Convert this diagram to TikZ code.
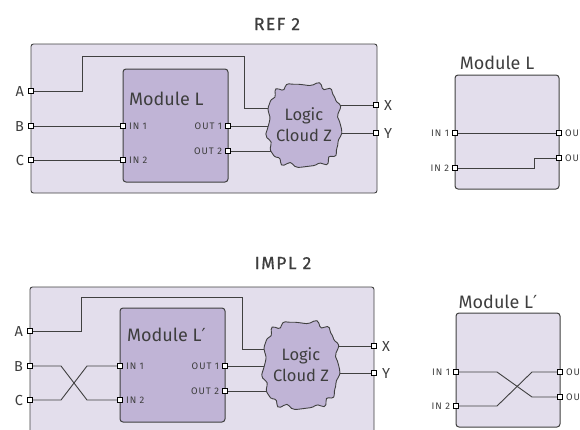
\documentclass[tikz,border=0pt]{standalone}
\usepackage{fontspec}
\setmainfont{Fira Sans}
\newfontfamily\pinfont[LetterSpace=10]{Fira Sans}
\newfontfamily\headfont[FakeBold=0.7,LetterSpace=8]{Fira Sans}
\newfontfamily\symfont{DejaVu Sans}
\newcommand\primemark{{\symfont ′}}
\definecolor{panel}{HTML}{E3DEEC}
\definecolor{modfill}{HTML}{C0B4D6}
\definecolor{wire}{HTML}{404040}
\definecolor{ink}{HTML}{3E3E3E}
\tikzset{
  panelbox/.style={draw=wire, fill=panel, line width=0.9pt, rounded corners=2.5pt},
  modbox/.style={draw=wire, fill=modfill, line width=1pt, rounded corners=3pt},
  sig/.style={draw=wire, line width=0.9pt},
  port/.style={rectangle, draw=black, fill=white, line width=1pt, minimum size=4.6pt, inner sep=0pt},
  pinlbl/.style={font=\pinfont\fontsize{9.5}{9.5}\selectfont, text=ink, inner sep=0pt},
  iolbl/.style={font=\fontsize{14.5}{14.5}\selectfont, text=ink, inner sep=0pt},
  modlbl/.style={font=\fontsize{18}{18}\selectfont, text=ink, inner sep=0pt},
  cloudlbl/.style={font=\fontsize{16.5}{21}\selectfont, text=ink, align=center, inner sep=0pt},
  titlelbl/.style={font=\headfont\fontsize{17.5}{17.5}\selectfont, text=ink, inner sep=0pt},
  cloudshape/.style={draw=wire, fill=modfill, line width=0.9pt}
}
% bumpy rounded outline of a logic cloud: centre x, centre y, half width, half height
\newcommand\bumpcloud[4]{%
  \path[cloudshape] plot[smooth cycle, variable=\t, domain=2:358, samples=90]
    ({#1+#3*sign(cos(\t))*(abs(cos(\t)))^0.7*(1+0.04*sin(13*\t)+0.025*sin(19*\t+40))},
     {#2+#4*sign(sin(\t))*(abs(sin(\t)))^0.7*(1+0.04*sin(13*\t)+0.025*sin(19*\t+40))});%
}
\begin{document}
\begin{tikzpicture}[x=1pt,y=-1pt]
\useasboundingbox (0,0) rectangle (580,429);

% ---------------- REF 2 ----------------
\node[titlelbl] (t1) at (277,24) {REF 2};
\draw[panelbox] (31,44) rectangle (377,193);
\draw[modbox] (123,69) rectangle (228,182);
\node[modlbl, anchor=west] (m1) at (129,99) {Module L};

\node[port] (a1) at (31,91) {};
\node[port] (b1) at (31,126) {};
\node[port] (c1) at (31,160) {};
\node[port] (i11) at (123,126) {};
\node[port] (i21) at (123,160) {};
\node[port] (o11) at (228,126) {};
\node[port] (o21) at (228,151) {};
\node[port] (x1) at (376,105) {};
\node[port] (y1) at (376,133) {};
\coordinate (z1) at (304,125);

\draw[sig] (a1) -- (82,91) -- (82,56) -- (244,56) -- (244,108) -- (z1 |- 0,108);
\draw[sig] (b1) -- (i11);
\draw[sig] (c1) -- (i21);
\draw[sig] (o11) -- (z1 |- o11);
\draw[sig] (o21) -- (z1 |- o21);
\draw[sig] (z1 |- x1) -- (x1);
\draw[sig] (z1 |- y1) -- (y1);
\bumpcloud{304}{125}{36}{41}
\node[cloudlbl] (lz1) at (z1) {Logic\\Cloud Z};
\foreach \p in {a1,b1,c1,i11,i21,o11,o21,x1,y1} \node[port] at (\p) {};

\node[iolbl, anchor=east] at ([xshift=-4pt]a1.west) {A};
\node[iolbl, anchor=east] at ([xshift=-4pt]b1.west) {B};
\node[iolbl, anchor=east] at ([xshift=-4pt]c1.west) {C};
\node[iolbl, anchor=west] at ([xshift=5pt]x1.east) {X};
\node[iolbl, anchor=west] at ([xshift=5pt]y1.east) {Y};
\node[pinlbl, anchor=west] at ([xshift=3pt]i11.east) {IN 1};
\node[pinlbl, anchor=west] at ([xshift=3pt]i21.east) {IN 2};
\node[pinlbl, anchor=east] at ([xshift=-3pt]o11.west) {OUT 1};
\node[pinlbl, anchor=east] at ([xshift=-3pt]o21.west) {OUT 2};

% module L on its own
\node[modlbl] (m1r) at (497,63) {Module L};
\draw[panelbox, rounded corners=3pt, line width=1pt] (455,75) rectangle (559,189);
\node[port] (ri11) at (455,133) {};
\node[port] (ri21) at (455,168) {};
\node[port] (ro11) at (559,133) {};
\node[port] (ro21) at (559,158) {};
\draw[sig] (ri11) -- (ro11);
\draw[sig] (ri21) -- (534,168) -- (534,158) -- (ro21);
\foreach \p in {ri11,ri21,ro11,ro21} \node[port] at (\p) {};
\node[pinlbl, anchor=east] at ([xshift=-3pt]ri11.west) {IN 1};
\node[pinlbl, anchor=east] at ([xshift=-3pt]ri21.west) {IN 2};
\node[pinlbl, anchor=west] at ([xshift=3pt]ro11.east) {OUT 1};
\node[pinlbl, anchor=west] at ([xshift=3pt]ro21.east) {OUT 2};

% ---------------- IMPL 2 ----------------
\node[titlelbl] (t2) at (283,263) {IMPL 2};
\draw[panelbox] (30,287) rectangle (374,445);
\draw[modbox] (120,308) rectangle (225,422);
\node[modlbl, anchor=west] (m2) at (127,335) {Module L\primemark};

\node[port] (a2) at (30,331) {};
\node[port] (b2) at (30,366) {};
\node[port] (c2) at (30,400) {};
\node[port] (i12) at (120,366) {};
\node[port] (i22) at (120,400) {};
\node[port] (o12) at (225,366) {};
\node[port] (o22) at (225,391) {};
\node[port] (x2) at (374,346) {};
\node[port] (y2) at (374,373) {};
\coordinate (z2) at (301,365);

\draw[sig] (a2) -- (81,331) -- (81,297) -- (242,297) -- (242,349) -- (z2 |- 0,349);
\draw[sig] (b2) -- (61,366) -- (87,400) -- (i22);
\draw[sig] (c2) -- (61,400) -- (87,366) -- (i12);
\draw[sig] (o12) -- (z2 |- o12);
\draw[sig] (o22) -- (z2 |- o22);
\draw[sig] (z2 |- x2) -- (x2);
\draw[sig] (z2 |- y2) -- (y2);
\bumpcloud{301}{365}{37}{43}
\node[cloudlbl] (lz2) at (z2) {Logic\\Cloud Z};
\foreach \p in {a2,b2,c2,i12,i22,o12,o22,x2,y2} \node[port] at (\p) {};

\node[iolbl, anchor=east] at ([xshift=-4pt]a2.west) {A};
\node[iolbl, anchor=east] at ([xshift=-4pt]b2.west) {B};
\node[iolbl, anchor=east] at ([xshift=-4pt]c2.west) {C};
\node[iolbl, anchor=west] at ([xshift=5pt]x2.east) {X};
\node[iolbl, anchor=west] at ([xshift=5pt]y2.east) {Y};
\node[pinlbl, anchor=west] at ([xshift=3pt]i12.east) {IN 1};
\node[pinlbl, anchor=west] at ([xshift=3pt]i22.east) {IN 2};
\node[pinlbl, anchor=east] at ([xshift=-3pt]o12.west) {OUT 1};
\node[pinlbl, anchor=east] at ([xshift=-3pt]o22.west) {OUT 2};

% module L' on its own
\node[modlbl] (m2r) at (498,302) {Module L\primemark};
\draw[panelbox, rounded corners=3pt, line width=1pt] (456,313) rectangle (560,427);
\node[port] (ri12) at (456,372) {};
\node[port] (ri22) at (456,406) {};
\node[port] (ro12) at (560,372) {};
\node[port] (ro22) at (560,397) {};
\draw[sig] (ri12) -- (497,372) -- (532,397) -- (ro22);
\draw[sig] (ri22) -- (497,406) -- (532,372) -- (ro12);
\foreach \p in {ri12,ri22,ro12,ro22} \node[port] at (\p) {};
\node[pinlbl, anchor=east] at ([xshift=-3pt]ri12.west) {IN 1};
\node[pinlbl, anchor=east] at ([xshift=-3pt]ri22.west) {IN 2};
\node[pinlbl, anchor=west] at ([xshift=3pt]ro12.east) {OUT 1};
\node[pinlbl, anchor=west] at ([xshift=3pt]ro22.east) {OUT 2};
\end{tikzpicture}
\end{document}
